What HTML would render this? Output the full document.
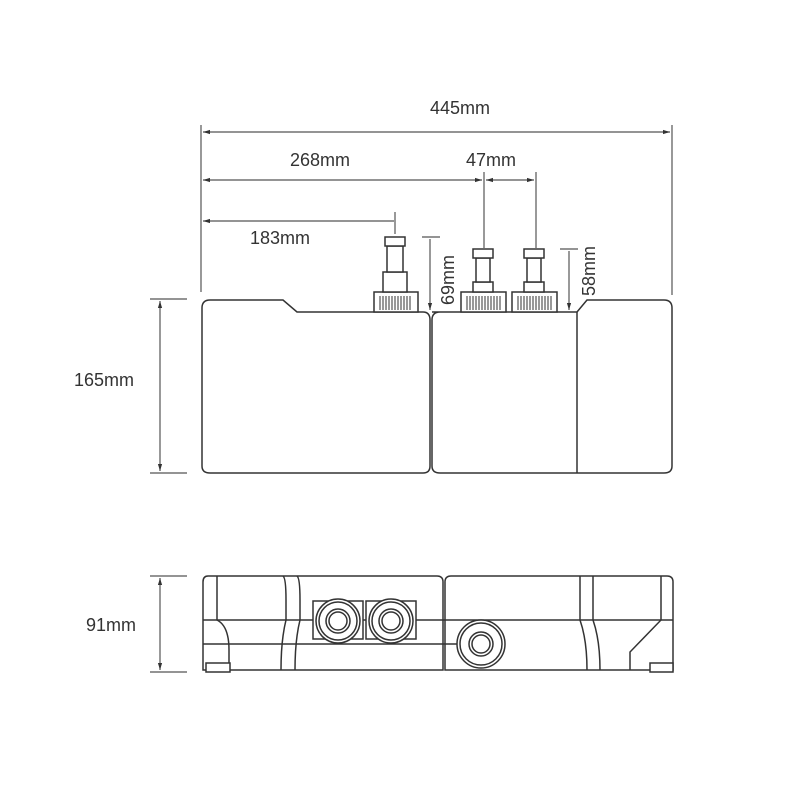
<!DOCTYPE html>
<html><head><meta charset="utf-8"><style>
html,body{margin:0;padding:0;background:#fff;}
svg{display:block;}
text{font-family:"Liberation Sans",sans-serif;font-size:18px;fill:#333;}
</style></head><body>
<svg width="800" height="800" viewBox="0 0 800 800" xmlns="http://www.w3.org/2000/svg">
<defs>
<marker id="a" viewBox="0 0 10 10" refX="10" refY="5" markerWidth="6" markerHeight="6" orient="auto-start-reverse"><path d="M0,2 L10,5 L0,8 z" fill="#333"/></marker>
</defs>
<g stroke="#555" stroke-width="1.2" fill="none">
<!-- extension lines -->
<line x1="201" y1="125" x2="201" y2="292"/>
<line x1="672" y1="125" x2="672" y2="295"/>
<!-- 445 -->
<line x1="203" y1="132" x2="670" y2="132" marker-start="url(#a)" marker-end="url(#a)"/>
<!-- 268 -->
<line x1="203" y1="180" x2="482" y2="180" marker-start="url(#a)" marker-end="url(#a)"/>
<line x1="484" y1="172" x2="484" y2="248"/>
<line x1="536" y1="172" x2="536" y2="248"/>
<line x1="486" y1="180" x2="534" y2="180" marker-start="url(#a)" marker-end="url(#a)"/>
<!-- 183 -->
<line x1="203" y1="221" x2="394" y2="221" marker-start="url(#a)"/>
<line x1="395" y1="212" x2="395" y2="234"/>
<!-- 69 -->
<line x1="422" y1="237" x2="440" y2="237"/>
<line x1="430" y1="239" x2="430" y2="310" marker-end="url(#a)"/>
<!-- 58 -->
<line x1="560" y1="249" x2="578" y2="249"/>
<line x1="569" y1="251" x2="569" y2="310" marker-end="url(#a)"/>
<!-- 165 -->
<line x1="150" y1="299" x2="187" y2="299"/>
<line x1="150" y1="473" x2="187" y2="473"/>
<line x1="160" y1="301" x2="160" y2="471" marker-start="url(#a)" marker-end="url(#a)"/>
<!-- 91 -->
<line x1="150" y1="576" x2="187" y2="576"/>
<line x1="150" y1="672" x2="187" y2="672"/>
<line x1="160" y1="578" x2="160" y2="670" marker-start="url(#a)" marker-end="url(#a)"/>
</g>
<text x="430" y="114">445mm</text>
<text x="290" y="166">268mm</text>
<text x="466" y="166">47mm</text>
<text x="250" y="244">183mm</text>
<text transform="translate(454,305) rotate(-90)">69mm</text>
<text transform="translate(595,296) rotate(-90)">58mm</text>
<text x="74" y="386">165mm</text>
<text x="86" y="631">91mm</text>

<g stroke="#333" stroke-width="1.5" fill="none">
<!-- top view -->
<path d="M210,300 H283 L297,312 H423 Q430,312 430,320 V466 Q430,473 423,473 H210 Q202,473 202,466 V308 Q202,300 210,300 Z"/>
<path d="M432,312 H577 L587,300 H664 Q672,300 672,308 V466 Q672,473 664,473 H440 Q432,473 432,466 V320 Q432,312 440,312 Z"/>
<line x1="577" y1="312" x2="577" y2="473"/>
<!-- fittings -->
<g fill="#fff">
<rect x="374" y="292" width="44" height="20"/>
<rect x="383" y="272" width="24" height="20"/>
<rect x="387" y="246" width="16" height="26"/>
<rect x="385" y="237" width="20" height="9"/>
<rect x="461" y="292" width="45" height="20"/>
<rect x="473" y="282" width="20" height="10"/>
<rect x="476" y="258" width="14" height="24"/>
<rect x="473" y="249" width="20" height="9"/>
<rect x="512" y="292" width="45" height="20"/>
<rect x="524" y="282" width="20" height="10"/>
<rect x="527" y="258" width="14" height="24"/>
<rect x="524" y="249" width="20" height="9"/>
</g>
</g>
<g stroke="#333" stroke-width="1">
<path d="M380,296V310M383,296V310M386,296V310M389,296V310M392,296V310M395,296V310M398,296V310M401,296V310M404,296V310M407,296V310M410,296V310"/>
<path d="M467,296V310M470,296V310M473,296V310M476,296V310M479,296V310M482,296V310M485,296V310M488,296V310M491,296V310M494,296V310M497,296V310M500,296V310"/>
<path d="M518,296V310M521,296V310M524,296V310M527,296V310M530,296V310M533,296V310M536,296V310M539,296V310M542,296V310M545,296V310M548,296V310M551,296V310"/>
</g>

<!-- bottom view -->
<g stroke="#333" stroke-width="1.5" fill="none">
<path d="M208,576 H437 Q443,576 443,582 V670 H203 V582 Q203,576 208,576 Z"/>
<path d="M451,576 H667 Q673,576 673,582 V670 H445 V582 Q445,576 451,576 Z"/>
<line x1="203" y1="620" x2="673" y2="620"/>
<line x1="203" y1="644" x2="457" y2="644"/>
<path d="M217,576 V620 Q229,626 229,650 V670"/>
<path d="M283,576 Q286,578 286,600 V620 Q281,640 281,670"/>
<path d="M297,576 Q300,578 300,600 V620 Q295,640 295,670"/>
<path d="M580,576 V620 Q587,640 587,670"/>
<path d="M593,576 V620 Q600,640 600,670"/>
<path d="M661,576 V620 L630,652 V670"/>
<rect x="313" y="601" width="50" height="38" fill="#fff"/>
<rect x="366" y="601" width="50" height="38" fill="#fff"/>
<circle cx="338" cy="621" r="22" fill="#fff"/>
<circle cx="338" cy="621" r="19"/>
<circle cx="338" cy="621" r="12"/>
<circle cx="338" cy="621" r="9"/>
<circle cx="391" cy="621" r="22" fill="#fff"/>
<circle cx="391" cy="621" r="19"/>
<circle cx="391" cy="621" r="12"/>
<circle cx="391" cy="621" r="9"/>
<circle cx="481" cy="644" r="24" fill="#fff"/>
<circle cx="481" cy="644" r="21"/>
<circle cx="481" cy="644" r="12"/>
<circle cx="481" cy="644" r="9"/>
<rect x="206" y="663" width="24" height="9" fill="#fff"/>
<rect x="650" y="663" width="23" height="9" fill="#fff"/>
</g>
</svg>
</body></html>
